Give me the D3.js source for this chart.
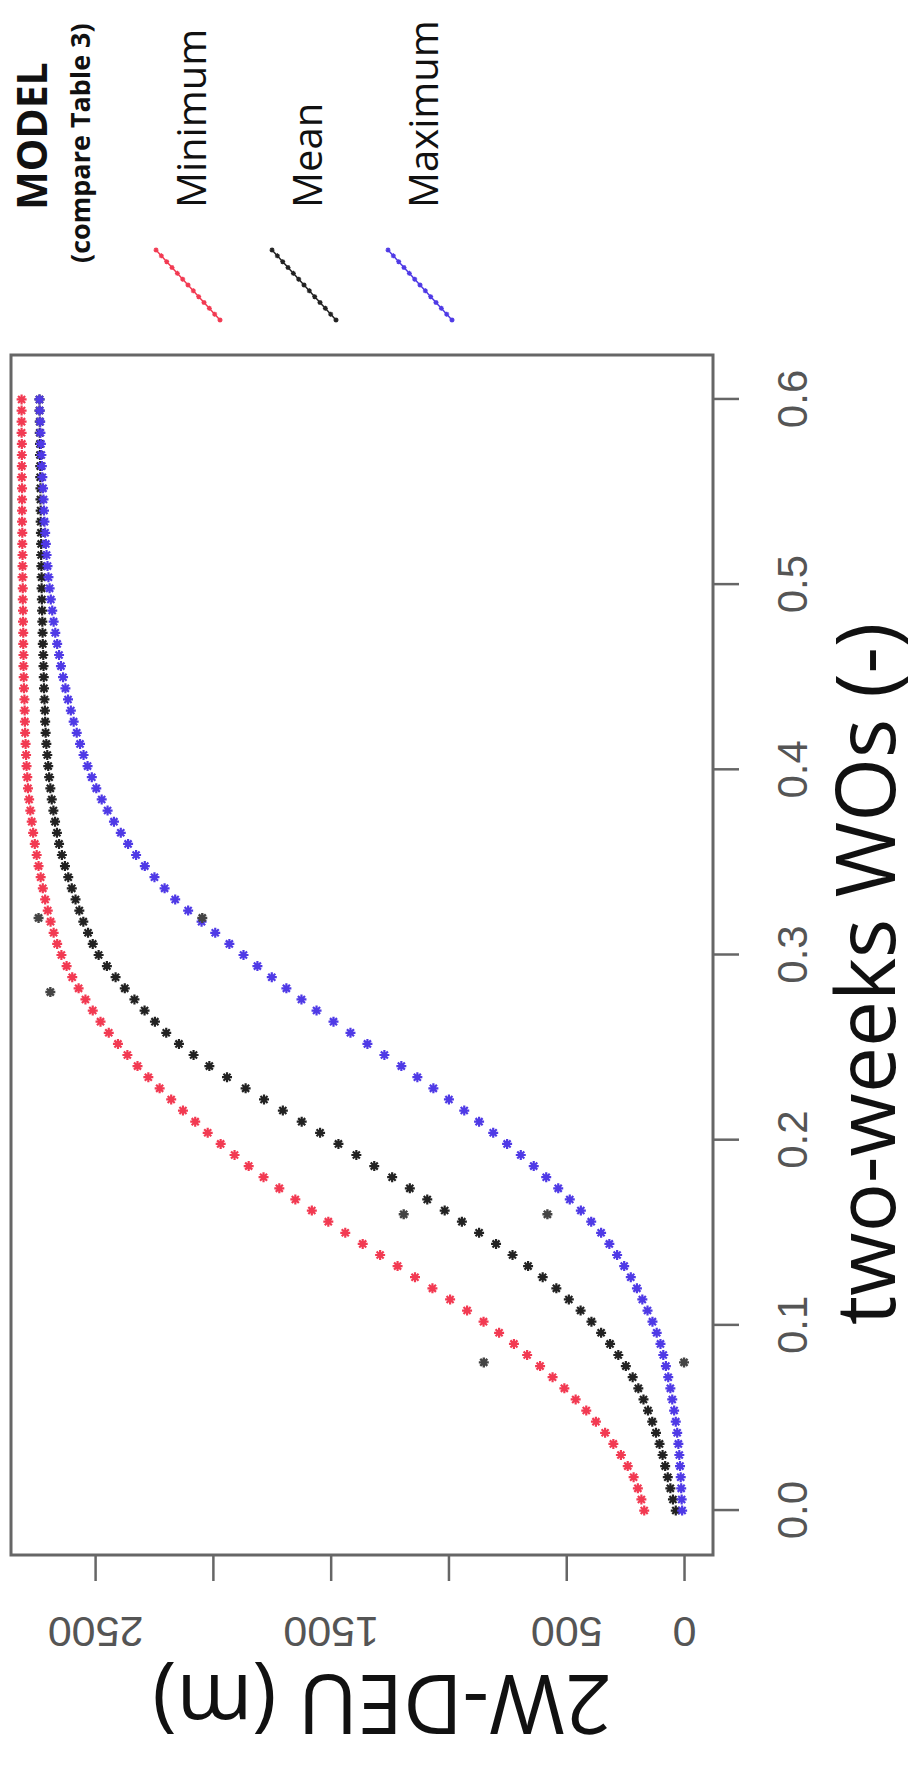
<!DOCTYPE html>
<html>
<head>
<meta charset="utf-8">
<script src="https://cdn.jsdelivr.net/npm/d3@7"></script>
<style>
  body { margin: 0; background: #fff; }
  svg { display: block; }
</style>
</head>
<body>
<script>
// data (two-weeks WOs on x, 2W-DEU in m on y)
const wos = [
  0, 0.006, 0.012, 0.018, 0.024, 0.03, 0.036, 0.042, 0.048, 0.054,
  0.06, 0.066, 0.072, 0.078, 0.084, 0.09, 0.096, 0.102, 0.108, 0.114,
  0.12, 0.126, 0.132, 0.138, 0.144, 0.15, 0.156, 0.162, 0.168, 0.174,
  0.18, 0.186, 0.192, 0.198, 0.204, 0.21, 0.216, 0.222, 0.228, 0.234,
  0.24, 0.246, 0.252, 0.258, 0.264, 0.27, 0.276, 0.282, 0.288, 0.294,
  0.3, 0.306, 0.312, 0.318, 0.324, 0.33, 0.336, 0.342, 0.348, 0.354,
  0.36, 0.366, 0.372, 0.378, 0.384, 0.39, 0.396, 0.402, 0.408, 0.414,
  0.42, 0.426, 0.432, 0.438, 0.444, 0.45, 0.456, 0.462, 0.468, 0.474,
  0.48, 0.486, 0.492, 0.498, 0.504, 0.51, 0.516, 0.522, 0.528, 0.534,
  0.54, 0.546, 0.552, 0.558, 0.564, 0.57, 0.576, 0.582, 0.588, 0.594,
  0.6
];
const deuMin = [
  169, 181, 196, 214, 239, 268, 300, 335, 374, 415,
  460, 508, 558, 611, 666, 722, 785, 851, 921, 993,
  1068, 1142, 1216, 1290, 1364, 1438, 1510, 1580, 1650, 1718,
  1785, 1848, 1908, 1967, 2022, 2075, 2127, 2177, 2226, 2274,
  2320, 2363, 2403, 2442, 2477, 2510, 2541, 2570, 2597, 2621,
  2643, 2661, 2676, 2689, 2701, 2712, 2722, 2731, 2740, 2748,
  2756, 2763, 2769, 2775, 2780, 2785, 2788, 2791, 2793, 2795,
  2797, 2798, 2799, 2800, 2802, 2803, 2804, 2804, 2805, 2805,
  2806, 2806, 2807, 2807, 2808, 2808, 2808, 2809, 2809, 2810,
  2810, 2810, 2810, 2811, 2811, 2811, 2811, 2812, 2812, 2812,
  2812
];
const deuMean = [
  35, 47, 58, 69, 80, 91, 104, 119, 135, 153,
  172, 194, 218, 247, 279, 314, 352, 393, 439, 489,
  542, 600, 662, 728, 798, 870, 943, 1016, 1090, 1164,
  1239, 1315, 1391, 1467, 1545, 1623, 1703, 1783, 1861, 1940,
  2015, 2082, 2144, 2198, 2246, 2290, 2333, 2374, 2413, 2450,
  2485, 2510, 2530, 2550, 2567, 2583, 2599, 2614, 2628, 2641,
  2653, 2662, 2670, 2677, 2684, 2690, 2695, 2699, 2703, 2707,
  2710, 2712, 2713, 2715, 2717, 2718, 2719, 2720, 2722, 2723,
  2724, 2725, 2726, 2727, 2727, 2728, 2729, 2729, 2730, 2731,
  2731, 2732, 2732, 2733, 2733, 2734, 2734, 2735, 2735, 2736,
  2736
];
const deuMax = [
  8, 10, 12, 14, 17, 20, 24, 29, 35, 42,
  50, 58, 67, 77, 88, 100, 116, 134, 155, 177,
  200, 226, 254, 284, 317, 352, 394, 438, 485, 534,
  585, 638, 693, 751, 810, 870, 933, 998, 1064, 1132,
  1200, 1272, 1344, 1416, 1488, 1560, 1624, 1688, 1750, 1811,
  1870, 1930, 1990, 2048, 2105, 2160, 2205, 2248, 2289, 2326,
  2360, 2391, 2420, 2447, 2472, 2495, 2514, 2532, 2549, 2564,
  2578, 2591, 2603, 2615, 2626, 2636, 2645, 2653, 2661, 2669,
  2676, 2682, 2688, 2693, 2698, 2702, 2706, 2709, 2712, 2715,
  2717, 2719, 2721, 2724, 2726, 2728, 2730, 2732, 2733, 2735,
  2736
];
// observed points
const obsWos = [0.08, 0.08, 0.16, 0.16, 0.28, 0.32, 0.32];
const obsDeu = [850, 0, 1190, 580, 2690, 2740, 2045];

const xTicks = [0, 0.1, 0.2, 0.3, 0.4, 0.5, 0.6];
const yTicks = [0, 500, 1000, 1500, 2000, 2500];
const yLabelled = [0, 500, 1500, 2500];
const legendNames = ["Minimum", "Mean", "Maximum"];
const legendColors = ["#f23a52", "#222222", "#4f3ae6"];

const width = 921;
const height = 1765;

const svg = d3.select("body").append("svg")
    .attr("width", width).attr("height", height)
    .style("background", "#fff");

// the whole figure is drawn upright, then turned a quarter turn
const g = svg.append("g")
    .attr("transform", "translate(0," + height + ") rotate(-90)");

const xScale = d3.scaleLinear().domain([-0.024, 0.624]).range([210, 1410]);
const yScale = d3.scaleLinear().domain([-123, 2857]).range([713, 11]);

const axisColor = "#666";
const tickFont = "'Liberation Sans', Arial, sans-serif";
const titleFont = "'Open Sans', 'DejaVu Sans', sans-serif";

// x axis
const xAxis = g.append("g")
    .attr("transform", "translate(0,713)")
    .call(d3.axisBottom(xScale).tickValues(xTicks).tickSize(26).tickFormat(d3.format(".1f")));
xAxis.select(".domain").remove();
xAxis.selectAll("line").attr("stroke", axisColor).attr("stroke-width", 2.5);
xAxis.selectAll("text")
    .attr("y", 94).attr("dy", 0)
    .attr("fill", "#555")
    .style("font-family", tickFont).style("font-size", "42px");

// y axis
const yAxis = g.append("g")
    .attr("transform", "translate(210,0)")
    .call(d3.axisLeft(yScale).tickValues(yTicks).tickSize(26)
        .tickFormat(d => yLabelled.includes(d) ? d : ""));
yAxis.select(".domain").remove();
yAxis.selectAll("line").attr("stroke", axisColor).attr("stroke-width", 2.5);
yAxis.selectAll("text")
    .attr("x", 0).attr("y", 0).attr("dy", 0)
    .attr("text-anchor", "middle")
    .attr("transform", "translate(-62,0) rotate(-90)")
    .attr("fill", "#555")
    .style("font-family", tickFont).style("font-size", "43px");

// plot box
g.append("rect")
    .attr("x", 210).attr("y", 11).attr("width", 1200).attr("height", 702)
    .attr("fill", "none").attr("stroke", axisColor).attr("stroke-width", 3);

// axis titles
g.append("text")
    .attr("x", 791).attr("y", 895)
    .attr("text-anchor", "middle")
    .style("font-family", titleFont).style("font-size", "82px")
    .attr("fill", "#111")
    .text("two-weeks WOs (-)");

g.append("text")
    .attr("transform", "translate(90,382) rotate(-90)")
    .attr("text-anchor", "middle")
    .style("font-family", titleFont).style("font-size", "82px")
    .attr("fill", "#111")
    .text("2W-DEU (m)");

// asterisk marker like R pch = 8
function star(r) {
    const k = r * 0.7071;
    return "M" + (-r) + ",0H" + r + "M0," + (-r) + "V" + r +
        "M" + (-k) + "," + (-k) + "L" + k + "," + k +
        "M" + (-k) + "," + k + "L" + k + "," + (-k);
}

const series = [deuMin, deuMean, deuMax];
series.forEach((vals, s) => {
    g.append("g").selectAll("path").data(vals).enter().append("path")
        .attr("transform", (d, i) => "translate(" + xScale(wos[i]) + "," + yScale(d) + ")")
        .attr("d", star(5))
        .attr("fill", "none")
        .attr("stroke", legendColors[s])
        .attr("stroke-width", 2.2);
});

g.append("g").selectAll("path").data(obsDeu).enter().append("path")
    .attr("transform", (d, i) => "translate(" + xScale(obsWos[i]) + "," + yScale(d) + ")")
    .attr("d", star(5))
    .attr("fill", "none")
    .attr("stroke", "#444")
    .attr("stroke-width", 2.4);

// legend, to the right of the plot
const legend = g.append("g");
legend.append("text")
    .attr("x", 1555).attr("y", 47)
    .style("font-family", titleFont).style("font-size", "41px").style("font-weight", "bold")
    .attr("fill", "#111")
    .text("MODEL");
legend.append("text")
    .attr("x", 1502).attr("y", 90)
    .style("font-family", titleFont).style("font-size", "27px").style("font-weight", "bold")
    .attr("fill", "#111")
    .text("(compare Table 3)");

legendNames.forEach((name, i) => {
    const v = 188 + i * 116;
    legend.append("text")
        .attr("x", 1557).attr("y", v + 18)
        .style("font-family", titleFont).style("font-size", "40px")
        .attr("fill", "#111")
        .text(name);
    legend.append("line")
        .attr("x1", 1445).attr("y1", v + 32).attr("x2", 1515).attr("y2", v - 32)
        .attr("stroke", legendColors[i]).attr("stroke-width", 1.5);
    const steps = d3.range(13);
    legend.append("g").selectAll("path").data(steps).enter().append("path")
        .attr("transform", j => "translate(" + (1445 + j * 5.83) + "," + (v + 32 - j * 5.33) + ")")
        .attr("d", star(2.5))
        .attr("fill", "none")
        .attr("stroke", legendColors[i])
        .attr("stroke-width", 1.3);
});
</script>
</body>
</html>
